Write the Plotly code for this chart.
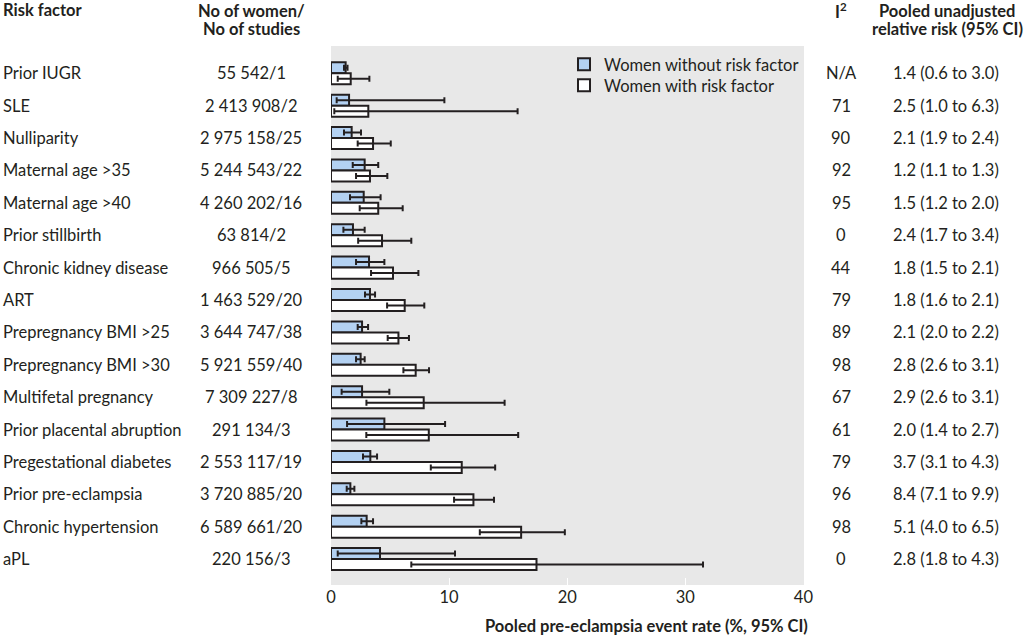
import plotly.graph_objects as go

factors = ["Prior IUGR", "SLE", "Nulliparity", "Maternal age >35", "Maternal age >40",
           "Prior stillbirth", "Chronic kidney disease", "ART", "Prepregnancy BMI >25",
           "Prepregnancy BMI >30", "Multifetal pregnancy", "Prior placental abruption",
           "Pregestational diabetes", "Prior pre-eclampsia", "Chronic hypertension", "aPL"]
n_text = ["55 542/1", "2 413 908/2", "2 975 158/25", "5 244 543/22", "4 260 202/16",
          "63 814/2", "966 505/5", "1 463 529/20", "3 644 747/38", "5 921 559/40",
          "7 309 227/8", "291 134/3", "2 553 117/19", "3 720 885/20", "6 589 661/20",
          "220 156/3"]
i2_text = ["N/A", "71", "90", "92", "95", "0", "44", "79", "89", "98", "67", "61",
           "79", "96", "98", "0"]
rr_text = ["1.4 (0.6 to 3.0)", "2.5 (1.0 to 6.3)", "2.1 (1.9 to 2.4)", "1.2 (1.1 to 1.3)",
           "1.5 (1.2 to 2.0)", "2.4 (1.7 to 3.4)", "1.8 (1.5 to 2.1)", "1.8 (1.6 to 2.1)",
           "2.1 (2.0 to 2.2)", "2.8 (2.6 to 3.1)", "2.9 (2.6 to 3.1)", "2.0 (1.4 to 2.7)",
           "3.7 (3.1 to 4.3)", "8.4 (7.1 to 9.9)", "5.1 (4.0 to 6.5)", "2.8 (1.8 to 4.3)"]

without_rate = [1.24, 1.53, 1.75, 2.85, 2.77, 1.86, 3.22, 3.30, 2.63, 2.51, 2.63, 4.52, 3.33, 1.64, 3.02, 4.15]
without_lo = [1.10, 0.48, 1.10, 1.84, 1.61, 1.05, 2.12, 2.88, 2.26, 2.12, 0.90, 1.36, 2.71, 1.33, 2.57, 0.57]
without_hi = [1.40, 9.60, 2.54, 4.00, 4.20, 2.85, 4.52, 3.73, 3.14, 2.85, 4.94, 9.66, 3.90, 1.98, 3.56, 10.5]
with_rate = [1.67, 3.16, 3.56, 3.30, 4.00, 4.32, 5.25, 6.24, 5.71, 7.17, 7.85, 8.28, 11.07, 12.06, 16.1, 17.4]
with_lo = [0.57, 0.28, 2.26, 2.12, 2.43, 2.30, 3.39, 4.75, 4.80, 6.13, 3.00, 2.99, 8.45, 10.42, 12.6, 6.8]
with_hi = [3.25, 15.8, 5.06, 4.77, 6.07, 6.80, 7.40, 7.90, 6.60, 8.30, 14.7, 15.85, 13.9, 13.8, 19.8, 31.5]

x_ticks = [0, 10, 20, 30, 40]

W, H = 1024, 636
L, T = 331, 46
PR, PB = 804, 585
R = W - PR
B = H - PB
PW = PR - L
PH = PB - T
TXT = "#231f20"
FONT = "Lato"
FS = 16.5


def px_x(p):
    return (p - L) / PW


def px_y(p):
    return 1 - (p - T) / PH


fig = go.Figure()
fig.add_trace(go.Bar(
    y=factors, x=without_rate, orientation="h", name="Women without risk factor",
    marker=dict(color="#b3d1f2", line=dict(color=TXT, width=2)),
    error_x=dict(type="data", symmetric=False,
                 array=[h - r for h, r in zip(without_hi, without_rate)],
                 arrayminus=[r - l for l, r in zip(without_lo, without_rate)],
                 color=TXT, thickness=2, width=3),
    legend="legend",
))
fig.add_trace(go.Bar(
    y=factors, x=with_rate, orientation="h", name="Women with risk factor",
    marker=dict(color="#ffffff", line=dict(color=TXT, width=2)),
    error_x=dict(type="data", symmetric=False,
                 array=[h - r for h, r in zip(with_hi, with_rate)],
                 arrayminus=[r - l for l, r in zip(with_lo, with_rate)],
                 color=TXT, thickness=2, width=3),
    legend="legend2",
))

f_reg = dict(size=FS, color=TXT, family=FONT)
ann = []
for f, n, i2, rr in zip(factors, n_text, i2_text, rr_text):
    ann.append(dict(xref="paper", yref="y", x=px_x(1), y=f, text=f, xanchor="left",
                    showarrow=False, font=f_reg))
    ann.append(dict(xref="paper", yref="y", x=px_x(251), y=f, text=n, xanchor="center",
                    showarrow=False, font=f_reg))
    ann.append(dict(xref="paper", yref="y", x=px_x(841), y=f, text=i2, xanchor="center",
                    showarrow=False, font=f_reg))
    ann.append(dict(xref="paper", yref="y", x=px_x(946), y=f, text=rr, xanchor="center",
                    showarrow=False, font=f_reg))

hdr = f_reg
ann += [
    dict(xref="paper", yref="paper", x=px_x(1), y=px_y(10), text="<b>Risk factor</b>",
         xanchor="left", yanchor="middle", showarrow=False, font=hdr),
    dict(xref="paper", yref="paper", x=px_x(251), y=px_y(11), text="<b>No of women/</b>",
         xanchor="center", yanchor="middle", showarrow=False, font=hdr),
    dict(xref="paper", yref="paper", x=px_x(251), y=px_y(29), text="<b>No of studies</b>",
         xanchor="center", yanchor="middle", showarrow=False, font=hdr),
    dict(xref="paper", yref="paper", x=px_x(841), y=px_y(11), text="<b>I<sup>2</sup></b>",
         xanchor="center", yanchor="middle", showarrow=False, font=hdr),
    dict(xref="paper", yref="paper", x=px_x(947), y=px_y(11), text="<b>Pooled unadjusted</b>",
         xanchor="center", yanchor="middle", showarrow=False, font=hdr),
    dict(xref="paper", yref="paper", x=px_x(947), y=px_y(29), text="<b>relative risk (95% CI)</b>",
         xanchor="center", yanchor="middle", showarrow=False, font=hdr),
    dict(xref="paper", yref="paper", x=px_x(810), y=px_y(626),
         text="<b>Pooled pre-eclampsia event rate (%, 95% CI)</b>",
         xanchor="right", yanchor="middle", showarrow=False, font=hdr),
]

leg_common = dict(bgcolor="rgba(0,0,0,0)", font=f_reg, itemsizing="constant",
                  xanchor="left", yanchor="top")

fig.update_layout(
    width=W, height=H,
    margin=dict(l=L, r=R, t=T, b=B, pad=0),
    paper_bgcolor="white", plot_bgcolor="#e8e8e8",
    barmode="group", bargap=0.32, bargroupgap=0,
    font=dict(family=FONT, size=FS, color=TXT),
    showlegend=True,
    legend=dict(x=px_x(564), y=px_y(47), **leg_common),
    legend2=dict(x=px_x(564), y=px_y(68), **leg_common),
    xaxis=dict(range=[0, 40.05], tickvals=x_ticks, ticks="inside", ticklen=7,
               tickcolor="white", tickwidth=1, showgrid=False, zeroline=False,
               showline=False, tickfont=f_reg),
    yaxis=dict(range=[15.80, -0.843], showticklabels=False, showgrid=False,
               zeroline=False, showline=False, ticks=""),
    annotations=ann,
)

fig.write_html("out.html", config={"displayModeBar": False},
               post_script="document.body.style.margin='0';")
